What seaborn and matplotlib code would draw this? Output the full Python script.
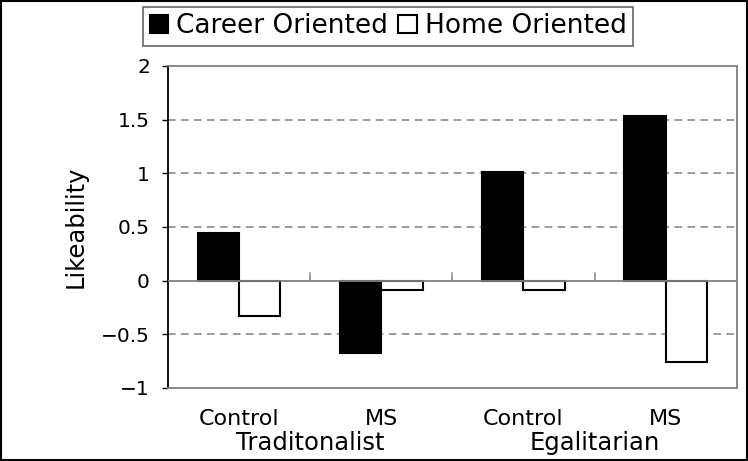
import matplotlib
matplotlib.use("Agg")
import matplotlib.pyplot as plt
import seaborn as sns
import pandas as pd
from matplotlib.patches import Rectangle

conditions = ["Trad Control", "Trad MS", "Egal Control", "Egal MS"]
cond_labels = ["Control", "MS", "Control", "MS"]
groups = ["Traditonalist", "Egalitarian"]
career = [0.44, -0.67, 1.01, 1.535]
home = [-0.33, -0.09, -0.09, -0.76]
series = ["Career Oriented", "Home Oriented"]

df = pd.DataFrame({
    "cond": conditions * 2,
    "value": career + home,
    "orient": [series[0]] * 4 + [series[1]] * 4,
})

sns.set_style("white")
plt.rcParams["font.family"] = ["DejaVu Sans"]
plt.rcParams["axes.unicode_minus"] = True
plt.rcParams["text.color"] = "black"
plt.rcParams["axes.labelcolor"] = "black"
plt.rcParams["xtick.color"] = "black"
plt.rcParams["ytick.color"] = "black"

fig = plt.figure(figsize=(7.48, 4.61), dpi=100)
ax = fig.add_axes([0.2246, 0.1584, 0.985 - 0.2246, 0.857 - 0.1584])

sns.barplot(data=df, x="cond", y="value", hue="orient", order=conditions,
            hue_order=series, palette=["black", "white"], width=0.58,
            edgecolor="black", linewidth=1.5, ax=ax, legend=True)

ax.set_ylim(-1, 2)
ax.set_xlim(-0.5, 3.5)
ax.set_yticks([-1, -0.5, 0, 0.5, 1, 1.5, 2])
ax.set_yticklabels(["\u22121", "\u22120.5", "0", "0.5", "1", "1.5", "2"], fontsize=14.5)
for y in [-0.5, 0.5, 1, 1.5]:
    ax.axhline(y, color="#808080", lw=1.1, ls=(0, (5, 3.5)), zorder=0)
ax.axhline(0, color="#808080", lw=1.3, zorder=3)
# category separators on the zero axis
for xb in [0.5, 1.5, 2.5, 3.5]:
    ax.plot([xb, xb], [0, 0.07], color="#808080", lw=1.1, zorder=3)

ax.set_xticks(range(4))
ax.set_xticklabels(cond_labels, fontsize=16)
ax.tick_params(axis="x", length=0, pad=15)
ax.tick_params(axis="y", direction="out", length=4, width=1, color="black", left=True, pad=9)
ax.set_xlabel("")
ax.set_ylabel("Likeability", fontsize=17.5, labelpad=10)

for name, sp in ax.spines.items():
    sp.set_visible(True)
    sp.set_color("#808080")
    sp.set_linewidth(1.3)
ax.spines["left"].set_color("black")

for i, g in enumerate(groups):
    ax.text(0.5 + 2 * i, -0.17, g, transform=ax.get_xaxis_transform(),
            ha="center", va="center", fontsize=17.5)

handles, labels = ax.get_legend_handles_labels()
ax.get_legend().remove()
leg = fig.legend(handles, labels, loc="center", bbox_to_anchor=(0.519, 0.943),
                 ncol=2, fontsize=19, frameon=True, fancybox=False,
                 handlelength=0.7, handleheight=0.7, handletextpad=0.3,
                 columnspacing=0.4, borderpad=0.25, borderaxespad=0)
leg.get_frame().set_edgecolor("#404040")
leg.get_frame().set_linewidth(1.2)

fig.add_artist(Rectangle((0.001, 0.002), 0.997, 0.996, transform=fig.transFigure,
                         fill=False, edgecolor="black", lw=1.5))

fig.savefig("out.png", dpi=100)
